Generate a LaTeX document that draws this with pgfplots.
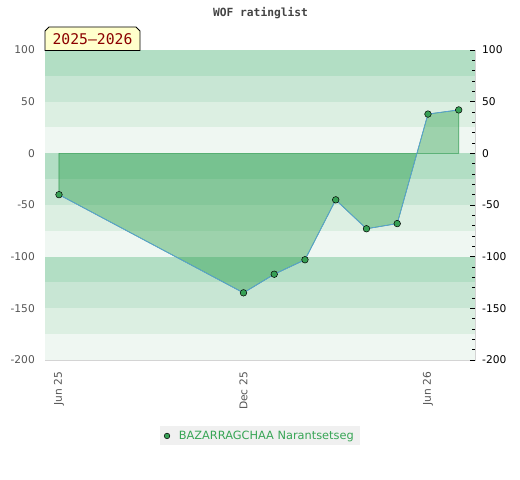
\documentclass[border=0pt]{standalone}
\usepackage{pgfplots}
\pgfplotsset{compat=1.18}
\usepackage{fontspec}
\setmainfont{DejaVu Sans}
\setmonofont{DejaVu Sans Mono}
\definecolor{bandA}{HTML}{B2DEC4}
\definecolor{bandB}{HTML}{C8E6D4}
\definecolor{bandC}{HTML}{DCEFE2}
\definecolor{bandD}{HTML}{EFF7F2}
\definecolor{framegray}{HTML}{D4D4D4}
\definecolor{labgray}{HTML}{555555}
\definecolor{fillgreen}{RGB}{25,150,60}
\definecolor{fillline}{RGB}{60,160,90}
\definecolor{lineblue}{RGB}{90,160,215}
\definecolor{markgreen}{RGB}{55,160,85}
\definecolor{legendbg}{HTML}{F0F0F0}
\definecolor{legendgreen}{RGB}{55,165,85}
\definecolor{titlegray}{HTML}{444444}
\definecolor{boxyellow}{HTML}{FFFFCC}
\definecolor{boxred}{HTML}{8B0000}
\begin{document}
\begin{tikzpicture}[x=1bp,y=1bp]
\useasboundingbox (0,0) rectangle (520,480);
\begin{axis}[at={(45bp,120bp)}, anchor=south west, scale only axis,
  width=430bp, height=310bp,
  xmin=-0.455, xmax=13.53, ymin=-200, ymax=100,
  axis line style={draw=framegray},
  ytick={-200,-150,...,100},
  xtick={0,6,12}, xticklabels={Jun 25, Dec 25, Jun 26},
  major tick length=0pt,
  /pgf/number format/assume math mode=true,
  yticklabel style={text=labgray, font=\fontsize{10.7}{12}\selectfont, inner sep=0pt},
  yticklabel shift=10bp,
  xticklabel style={rotate=90, anchor=east, text=labgray, font=\fontsize{10.7}{12}\selectfont, inner sep=0pt},
  xticklabel shift=12bp,
  legend style={at={(0.5,-0.245)}, anchor=center, fill=legendbg, draw=none,
    text=legendgreen, font=\fontsize{11.4}{13}\selectfont, inner xsep=4bp, inner ysep=2.5bp,
    /tikz/every odd column/.append style={column sep=7bp}},
  legend cell align=left,
]
\fill[bandA] (axis cs:-0.455,75) rectangle (axis cs:13.53,100);
\fill[bandB] (axis cs:-0.455,50) rectangle (axis cs:13.53,75);
\fill[bandC] (axis cs:-0.455,25) rectangle (axis cs:13.53,50);
\fill[bandD] (axis cs:-0.455,0) rectangle (axis cs:13.53,25);
\fill[bandA] (axis cs:-0.455,-25) rectangle (axis cs:13.53,0);
\fill[bandB] (axis cs:-0.455,-50) rectangle (axis cs:13.53,-25);
\fill[bandC] (axis cs:-0.455,-75) rectangle (axis cs:13.53,-50);
\fill[bandD] (axis cs:-0.455,-100) rectangle (axis cs:13.53,-75);
\fill[bandA] (axis cs:-0.455,-125) rectangle (axis cs:13.53,-100);
\fill[bandB] (axis cs:-0.455,-150) rectangle (axis cs:13.53,-125);
\fill[bandC] (axis cs:-0.455,-175) rectangle (axis cs:13.53,-150);
\fill[bandD] (axis cs:-0.455,-200) rectangle (axis cs:13.53,-175);
\addplot[draw=fillline, fill=fillgreen, fill opacity=0.38, line width=0.6pt, forget plot]
  coordinates {(0,0) (0,-40) (6,-135) (7,-117) (8,-103) (9,-45) (10,-73) (11,-68) (12,38) (13,42) (13,0)} -- cycle;
\addplot[color=lineblue, line width=0.8pt, mark=*, mark size=3.3bp,
  mark options={fill=markgreen, draw=black, line width=0.5pt}, forget plot]
  coordinates {(0,-40) (6,-135) (7,-117) (8,-103) (9,-45) (10,-73) (11,-68) (12,38) (13,42)};
\addlegendimage{only marks, mark=*, mark size=2.8bp, mark options={fill=markgreen, draw=black, line width=0.5pt}}
\addlegendentry{BAZARRAGCHAA Narantsetseg}
\end{axis}
\begin{axis}[at={(45bp,120bp)}, anchor=south west, scale only axis,
  width=430bp, height=310bp,
  xmin=-0.455, xmax=13.53, ymin=-200, ymax=100,
  axis x line=none, axis y line*=right,
  y axis line style={draw=framegray},
  ytick={-200,-150,...,100}, minor y tick num=4,
  tick align=inside, major tick length=5bp, minor tick length=3bp,
  tick style={black, line width=0.6pt},
  /pgf/number format/assume math mode=true,
  yticklabel style={text=black, font=\fontsize{10.7}{12}\selectfont, inner sep=0pt, anchor=west},
  yticklabel shift=7bp,
]
\addplot[draw=none, forget plot] coordinates {(0,0)};
\end{axis}
\node[font=\ttfamily\bfseries\fontsize{11.3}{13}\selectfont, text=titlegray] at (260.5,467) {WOF ratinglist};
\draw[fill=boxyellow, line width=0.8bp] (45,429.5) -- (45,449) -- (49,453) -- (136,453) -- (140,449) -- (140,429.5) -- cycle;
\node[font=\ttfamily\fontsize{14.8}{16}\selectfont, text=boxred] at (92.5,440.5) {2025–2026};
\end{tikzpicture}
\end{document}
